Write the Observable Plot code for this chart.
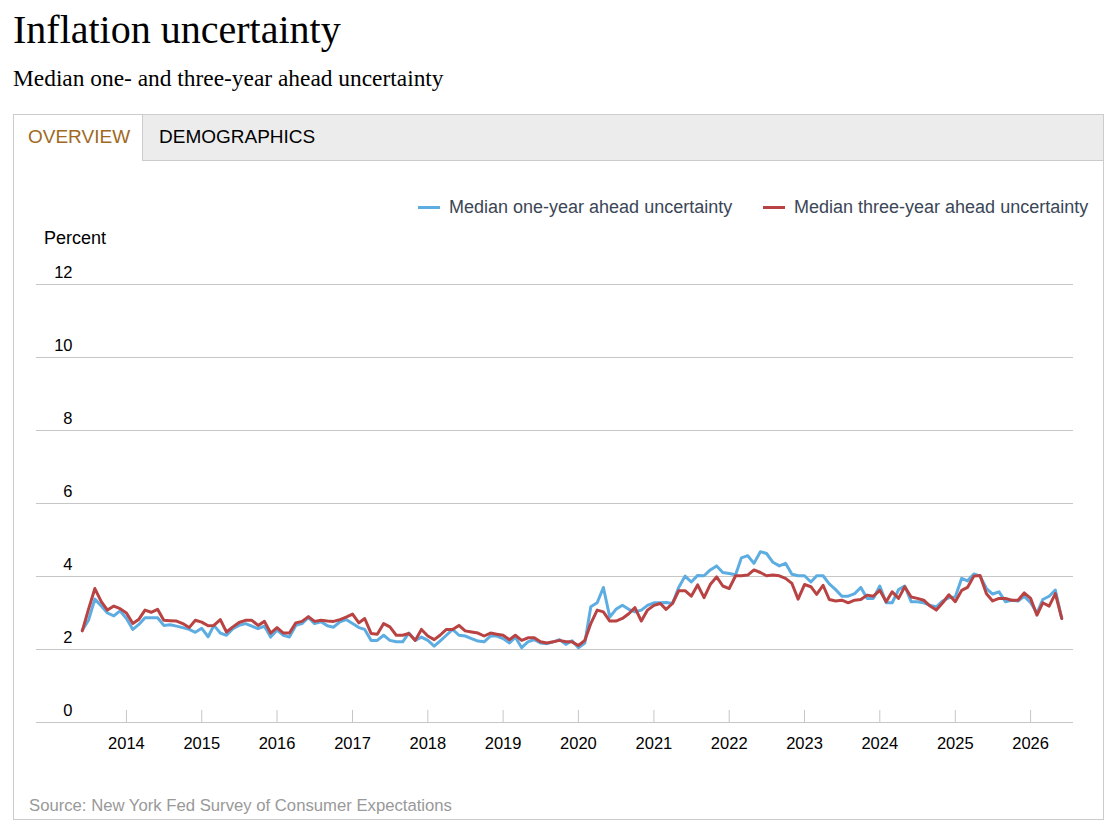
<!DOCTYPE html>
<html><head><meta charset="utf-8">
<script src="https://cdn.jsdelivr.net/npm/d3@7"></script>
<script src="https://cdn.jsdelivr.net/npm/@observablehq/plot@0.6"></script>
<style>
body{margin:0;background:#fff;font-family:"Liberation Sans",Arial,sans-serif;}
#page{position:relative;width:1107px;height:827px;overflow:hidden;}
.abs{position:absolute;white-space:nowrap;}
#title{left:13px;top:8px;font-family:"Liberation Serif",Georgia,serif;font-size:40px;color:#000;line-height:44px;}
#subtitle{left:13px;top:65px;font-family:"Liberation Serif",Georgia,serif;font-size:23.4px;color:#000;line-height:26px;}
#panel{left:13px;top:114px;width:1089px;height:704px;border:1px solid #ccc;}
#tabbar{left:14px;top:115px;width:1089px;height:45px;background:#ececec;border-bottom:1px solid #ccc;}
#tab1{left:14px;top:115px;width:128px;height:46px;background:#fff;border-right:1px solid #ccc;}
.tabtxt{font-size:19px;line-height:20px;top:127px;}
#t1{left:28px;color:#a0691f;}
#t2{left:159px;color:#000;}
.sw{height:3px;width:22px;top:206px;}
.lg{font-size:18px;line-height:20px;top:197px;color:#3b4656;}
#percent{left:44px;top:228px;font-size:18px;line-height:20px;color:#000;}
#source{left:29px;top:797px;font-size:16.7px;line-height:18px;color:#999;}
#chart{left:0;top:260px;}
</style></head>
<body><div id="page">
<div id="title" class="abs">Inflation uncertainty</div>
<div id="subtitle" class="abs">Median one- and three-year ahead uncertainty</div>
<div id="panel" class="abs"></div>
<div id="tabbar" class="abs"></div>
<div id="tab1" class="abs"></div>
<div id="t1" class="abs tabtxt">OVERVIEW</div>
<div id="t2" class="abs tabtxt">DEMOGRAPHICS</div>
<div class="abs sw" style="left:418px;background:#5dade2"></div>
<div class="abs lg" style="left:449px">Median one-year ahead uncertainty</div>
<div class="abs sw" style="left:763px;background:#b94343"></div>
<div class="abs lg" style="left:794px">Median three-year ahead uncertainty</div>
<div id="percent" class="abs">Percent</div>
<div id="chart" class="abs"></div>
<div id="source" class="abs">Source: New York Fed Survey of Consumer Expectations</div>
</div>
<script>
// Monthly survey data, first month June 2013
const startMonth = "2013-06-01";
const oneYear = [
2.53,2.80,3.38,3.19,3.00,2.92,3.06,2.85,2.55,2.68,2.87,2.87,2.87,2.66,2.68,2.64,2.60,2.55,2.47,2.58,
2.35,2.66,2.45,2.39,2.57,2.66,2.71,2.64,2.57,2.64,2.34,2.53,2.39,2.34,2.66,2.71,2.88,2.71,2.76,2.65,
2.61,2.76,2.82,2.71,2.60,2.55,2.25,2.25,2.39,2.25,2.21,2.21,2.45,2.25,2.34,2.25,2.09,2.23,2.39,2.55,
2.39,2.37,2.30,2.23,2.21,2.37,2.37,2.30,2.18,2.34,2.05,2.21,2.27,2.18,2.16,2.21,2.27,2.14,2.24,2.05,
2.18,3.17,3.28,3.70,2.89,3.10,3.21,3.10,3.03,3.08,3.21,3.28,3.28,3.29,3.26,3.70,4.01,3.85,4.03,4.02,
4.18,4.29,4.11,4.08,4.05,4.51,4.57,4.36,4.68,4.63,4.39,4.29,4.36,4.06,4.02,4.02,3.85,4.02,4.02,3.80,
3.64,3.46,3.46,3.53,3.70,3.40,3.40,3.74,3.28,3.28,3.64,3.74,3.31,3.31,3.28,3.21,3.17,3.33,3.42,3.44,
3.95,3.88,4.07,4.01,3.67,3.52,3.58,3.31,3.35,3.33,3.46,3.28,3.00,3.37,3.46,3.63,2.85];
const threeYear = [
2.51,3.10,3.67,3.31,3.08,3.19,3.12,3.00,2.71,2.82,3.08,3.02,3.10,2.80,2.79,2.78,2.71,2.60,2.80,2.75,
2.65,2.66,2.82,2.48,2.62,2.74,2.80,2.80,2.66,2.77,2.45,2.60,2.45,2.45,2.73,2.77,2.90,2.77,2.80,2.78,
2.77,2.82,2.89,2.97,2.73,2.85,2.44,2.42,2.71,2.62,2.39,2.39,2.44,2.25,2.55,2.37,2.27,2.39,2.55,2.55,
2.66,2.51,2.48,2.45,2.37,2.45,2.42,2.39,2.27,2.39,2.25,2.32,2.32,2.21,2.18,2.21,2.25,2.21,2.21,2.11,
2.25,2.71,3.08,3.03,2.78,2.78,2.85,2.98,3.15,2.78,3.08,3.21,3.26,3.10,3.26,3.61,3.61,3.46,3.77,3.42,
3.78,3.99,3.74,3.67,4.02,4.02,4.04,4.18,4.11,4.02,4.04,4.02,3.95,3.81,3.38,3.78,3.72,3.51,3.76,3.37,
3.33,3.35,3.28,3.35,3.37,3.49,3.46,3.62,3.31,3.58,3.40,3.72,3.44,3.40,3.35,3.19,3.08,3.28,3.50,3.31,
3.62,3.70,4.01,4.03,3.53,3.33,3.40,3.40,3.35,3.35,3.55,3.40,2.94,3.28,3.19,3.53,2.85];
const yTicks = [0, 2, 4, 6, 8, 10, 12];
const xTickYears = [2014,2015,2016,2017,2018,2019,2020,2021,2022,2023,2024,2025,2026];
const seriesNames = ["Median one-year ahead uncertainty", "Median three-year ahead uncertainty"];

const start = new Date(startMonth + "T00:00:00Z");
const rows = oneYear.map((v, i) => ({date: d3.utcMonth.offset(start, i), one: v, three: threeYear[i]}));
const xTicks = xTickYears.map(y => new Date(Date.UTC(y, 0, 1)));

const H = 502, mT = 24, mB = 40;
const frameH = H - mT - mB;
const chart = Plot.plot({
  width: 1107, height: H, marginLeft: 36, marginRight: 34, marginTop: mT, marginBottom: mB,
  style: {fontFamily: "'Liberation Sans', Arial, sans-serif", fontSize: "16.5px", color: "#000", background: "transparent", overflow: "visible"},
  x: {type: "utc", domain: [new Date(Date.UTC(2012, 9, 22)), new Date(Date.UTC(2026, 6, 28))]},
  y: {domain: [0, 12]},
  marks: [
    Plot.gridY(yTicks, {stroke: "#c6c6c6", strokeOpacity: 1, strokeWidth: 1}),
    Plot.axisY(yTicks, {tickSize: 0, tickPadding: 0, dx: 36, dy: -12, textAnchor: "end", label: null}),
    Plot.axisX(xTicks, {tickSize: 0, tickPadding: 15, tickFormat: d3.utcFormat("%Y"), label: null}),
    Plot.ruleX(xTicks, {stroke: "#c6c6c6", insetTop: frameH - 12}),
    Plot.lineY(rows, {x: "date", y: "one", stroke: "#5dade2", strokeWidth: 3}),
    Plot.lineY(rows, {x: "date", y: "three", stroke: "#b94343", strokeWidth: 3})
  ]
});
document.getElementById("chart").appendChild(chart);
</script>
</body></html>
